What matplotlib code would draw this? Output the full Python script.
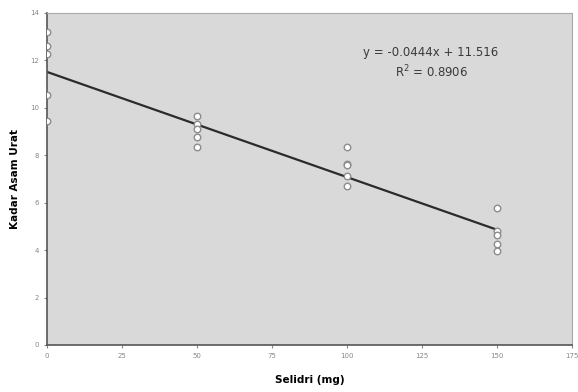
import matplotlib.pyplot as plt
import numpy as np

# data
dose = [0, 0, 0, 0, 0,
        50, 50, 50, 50, 50,
        100, 100, 100, 100, 100,
        150, 150, 150, 150, 150]
uric = [13.2, 12.6, 12.25, 10.55, 9.45,
        9.66, 9.32, 9.11, 8.77, 8.35,
        8.35, 7.63, 7.6, 7.12, 6.69,
        5.76, 4.79, 4.62, 4.24, 3.98]
slope = -0.0444
intercept = 11.516
xticks = [0, 25, 50, 75, 100, 125, 150, 175]
yticks = [0, 2, 4, 6, 8, 10, 12, 14]

fig = plt.figure(figsize=(5.78, 3.92), dpi=100)
ax = fig.add_axes([0.081, 0.12, 0.909, 0.847])
ax.set_facecolor("#d9d9d9")

ax.scatter(dose, uric, s=22, facecolor="white", edgecolor="#8c8c8c",
           linewidth=1.0, zorder=3)

xl = np.array([0, 150])
ax.plot(xl, slope * xl + intercept, color="#2b2b2b", lw=1.6, zorder=2)

ax.text(128, 12.35, "y = -0.0444x + 11.516", ha="center", va="center",
        fontsize=8.5, color="#3a3a3a")
ax.text(128, 11.5, "R$^2$ = 0.8906", ha="center", va="center",
        fontsize=8.5, color="#3a3a3a")

ax.set_xlim(0, 175)
ax.set_ylim(0, 14)
ax.set_xticks(xticks)
ax.set_yticks(yticks)
ax.tick_params(labelsize=5, colors="#888888", length=2)

for s in ["left", "bottom"]:
    ax.spines[s].set_color("#555555")
    ax.spines[s].set_linewidth(1.2)
for s in ["top", "right"]:
    ax.spines[s].set_color("#aaaaaa")

ax.set_xlabel("Selidri (mg)", fontsize=7.5, fontweight="bold", labelpad=12)
ax.set_ylabel("Kadar Asam Urat", fontsize=7.5, fontweight="bold", labelpad=7)

fig.savefig("out.png")
